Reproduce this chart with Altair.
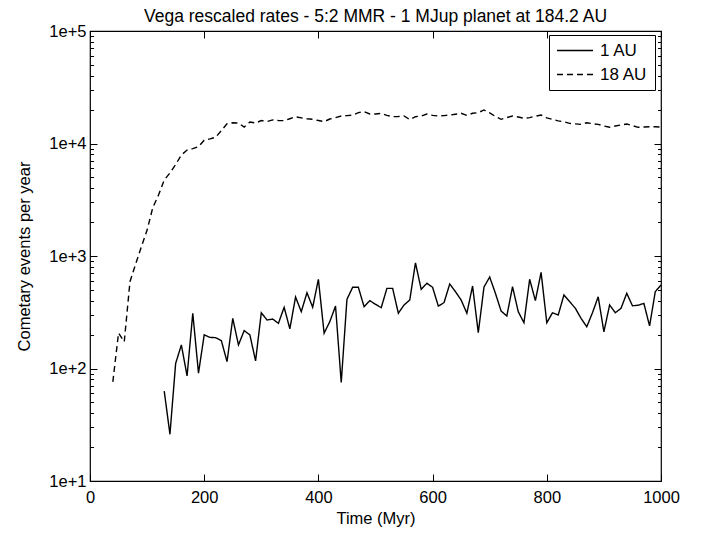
import altair as alt
import pandas as pd

FONT = "Liberation Sans"

# ---- data ----
time_1au = [130, 140, 150, 160, 170, 180, 190, 200, 210, 220,
            230, 240, 250, 260, 270, 280, 290, 300, 310, 320,
            330, 340, 350, 360, 370, 380, 390, 400, 410, 420,
            430, 440, 450, 460, 470, 480, 490, 500, 510, 520,
            530, 540, 550, 560, 570, 580, 590, 600, 610, 620,
            630, 640, 650, 660, 670, 680, 690, 700, 710, 720,
            730, 740, 750, 760, 770, 780, 790, 800, 810, 820,
            830, 840, 850, 860, 870, 880, 890, 900, 910, 920,
            930, 940, 950, 960, 970, 980, 990, 1000]
rate_1au = [63, 26, 111, 162, 86, 310, 91, 199, 189, 188,
            177, 115, 279, 162, 217, 199, 117, 313, 270, 275,
            252, 350, 225, 432, 320, 472, 350, 621, 206, 261,
            359, 75, 412, 527, 527, 354, 401, 372, 347, 516,
            516, 310, 367, 406, 870, 506, 572, 527, 359, 385,
            564, 482, 406, 310, 541, 208, 530, 650, 466, 324,
            293, 533, 320, 255, 621, 401, 716, 255, 313, 299,
            450, 393, 343, 279, 235, 313, 434, 212, 367, 313,
            343, 466, 361, 365, 379, 239, 482, 552]

time_18au = [40, 50, 60, 70, 80, 90, 100, 110, 120, 130,
             140, 150, 160, 170, 180, 190, 200, 210, 220, 230,
             240, 250, 260, 270, 280, 290, 300, 310, 320, 330,
             340, 350, 360, 370, 380, 390, 400, 410, 420, 430,
             440, 450, 460, 470, 480, 490, 500, 510, 520, 530,
             540, 550, 560, 570, 580, 590, 600, 610, 620, 630,
             640, 650, 660, 670, 680, 690, 700, 710, 720, 730,
             740, 750, 760, 770, 780, 790, 800, 810, 820, 830,
             840, 850, 860, 870, 880, 890, 900, 910, 920, 930,
             940, 950, 960, 970, 980, 990, 1000]
rate_18au = [76, 207, 173, 591, 850, 1210, 1700, 2700, 3480, 4740,
             5470, 6500, 7900, 8750, 9000, 9380, 10700, 11000, 11350, 13000,
             15000, 15300, 15200, 14000, 15500, 15200, 16000, 15700, 16200, 16000,
             15960, 16600, 17300, 16900, 16600, 16400, 16000, 15640, 16500, 17000,
             17550, 17700, 17900, 18800, 19200, 18300, 18300, 18550, 17800, 17300,
             17400, 17550, 16300, 17300, 17550, 18300, 17800, 17550, 17700, 17900,
             18200, 18550, 17800, 18550, 18800, 19860, 18700, 17400, 16400, 17000,
             17550, 17200, 16750, 17000, 17500, 17900, 16900, 16400, 15900, 15600,
             15100, 14950, 14800, 15300, 15000, 14800, 14300, 13930, 14300, 14600,
             14900, 14400, 13930, 14000, 14100, 14100, 14000]

series_names = ["1 AU", "18 AU"]
x_ticks = [0, 200, 400, 600, 800, 1000]
y_major = [10, 100, 1000, 10000, 100000]
y_minor = [20, 30, 40, 50, 60, 70, 80, 90,
           200, 300, 400, 500, 600, 700, 800, 900,
           2000, 3000, 4000, 5000, 6000, 7000, 8000, 9000,
           20000, 30000, 40000, 50000, 60000, 70000, 80000, 90000]

rows = [{"t": t, "rate": r, "series": series_names[0]} for t, r in zip(time_1au, rate_1au)]
rows += [{"t": t, "rate": r, "series": series_names[1]} for t, r in zip(time_18au, rate_18au)]
df = pd.DataFrame(rows)

x_scale = alt.Scale(domain=[0, 1000], nice=False)
y_scale = alt.Scale(type="log", domain=[10, 100000], nice=False)

MAJ = 7
MIN = 3.5

base = alt.Chart(df)

lines = base.mark_line(color="black", strokeWidth=1.4).encode(
    x=alt.X("t:Q", scale=x_scale, title="Time (Myr)",
            axis=alt.Axis(values=x_ticks, orient="bottom", offset=-MAJ, tickSize=MAJ,
                          labelPadding=8, titlePadding=5, format="d", labelFlush=False)),
    y=alt.Y("rate:Q", scale=y_scale, title="Cometary events per year",
            axis=alt.Axis(values=y_major, orient="left", offset=-MAJ, tickSize=MAJ,
                          labelPadding=4, titlePadding=16, labelFlush=False,
                          labelExpr="'1e+' + round(log(datum.value) / LN10)")),
    strokeDash=alt.StrokeDash(
        "series:N",
        scale=alt.Scale(domain=series_names, range=[[1, 0], [6, 4]]),
        legend=alt.Legend(title=None, orient="none", legendX=459, legendY=4,
                          symbolType="stroke", symbolSize=1296,
                          symbolStrokeColor="black", symbolStrokeWidth=1.4,
                          labelFont=FONT, labelFontSize=17, labelColor="black",
                          labelOffset=6, clipHeight=17, rowPadding=6, padding=7,
                          strokeColor="black", fillColor="white"),
    ),
    detail="series:N",
)

mirror = base.mark_line(opacity=0).encode(
    x=alt.X("t:Q", scale=x_scale, title=None,
            axis=alt.Axis(values=x_ticks, orient="top", offset=-MAJ, tickSize=MAJ, labels=False)),
    y=alt.Y("rate:Q", scale=y_scale, title=None,
            axis=alt.Axis(values=y_major, orient="right", offset=-MAJ, tickSize=MAJ, labels=False)),
    detail="series:N",
)

minor_left = base.mark_line(opacity=0).encode(
    x=alt.X("t:Q", scale=x_scale, axis=None),
    y=alt.Y("rate:Q", scale=y_scale, title=None,
            axis=alt.Axis(values=y_minor, orient="left", offset=-MIN, tickSize=MIN, labels=False)),
    detail="series:N",
)

minor_right = base.mark_line(opacity=0).encode(
    x=alt.X("t:Q", scale=x_scale, axis=None),
    y=alt.Y("rate:Q", scale=y_scale, title=None,
            axis=alt.Axis(values=y_minor, orient="right", offset=-MIN, tickSize=MIN, labels=False)),
    detail="series:N",
)

chart = (
    alt.layer(lines, mirror, minor_left, minor_right)
    .resolve_scale(x="shared", y="shared")
    .resolve_axis(x="independent", y="independent")
    .properties(
        width=571,
        height=450,
        autosize="none",
        padding={"left": 82, "top": 23, "right": 39, "bottom": 46},
        title=alt.TitleParams("Vega rescaled rates - 5:2 MMR - 1 MJup planet at 184.2 AU",
                              anchor="middle", frame="group", font=FONT, fontSize=17.5,
                              fontWeight="normal", color="black", offset=-2),
    )
    .configure_view(stroke="black", strokeWidth=1.2)
    .configure_axis(labelFont=FONT, titleFont=FONT, labelFontSize=16.5, titleFontSize=16.5,
                    labelColor="black", titleColor="black", titleFontWeight="normal",
                    tickColor="black", tickWidth=1, grid=False, domain=False)
)

chart.save("out.html", embed_options={"renderer": "svg", "actions": False})
